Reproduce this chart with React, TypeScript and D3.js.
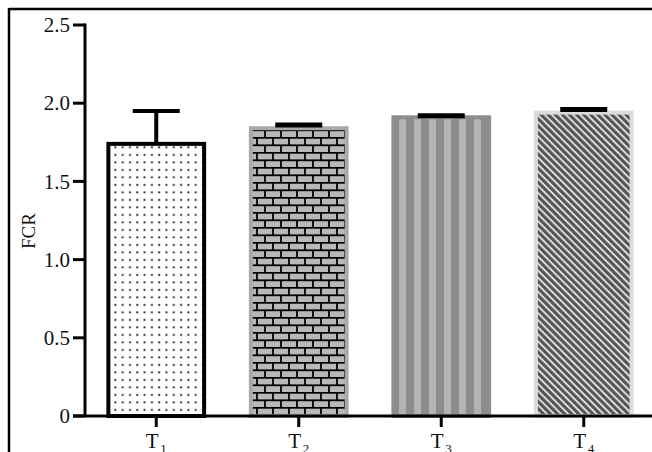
import React from "react";
import * as d3 from "d3";

const categories = ["1", "2", "3", "4"];
const means = [1.74, 1.84, 1.91, 1.94];
const errors = [0.21, 0.02, 0.01, 0.02];
const yTicks = [0, 0.5, 1.0, 1.5, 2.0, 2.5];
const yTickLabels = ["0", "0.5", "1.0", "1.5", "2.0", "2.5"];

const W = 652;
const H = 452;
const FONT = "Liberation Serif, Times New Roman, serif";

export default function App() {
  const x = d3
    .scaleBand<string>()
    .domain(categories)
    .range([85, 655])
    .paddingInner(0.3)
    .paddingOuter(0.15);
  const y = d3.scaleLinear().domain([0, 2.5]).range([416, 25]);
  const bw = x.bandwidth();
  const fills = ["url(#dots)", "url(#brick)", "url(#vstripe)", "url(#diag)"];
  const borders = ["#000", "#a9a9a9", "#8e8e8e", "#dcdcdc"];
  const capW = 47;

  return (
    <svg width={W} height={H} style={{ position: "absolute", left: 0, top: 0 }}>
      <defs>
        <pattern id="dots" patternUnits="userSpaceOnUse" width={7.3} height={7.5} x={2} y={1}>
          <rect width={7.3} height={7.5} fill="#fff" />
          <rect x={3} y={3} width={1.8} height={1.8} fill="#111" />
        </pattern>
        <pattern id="brick" patternUnits="userSpaceOnUse" width={16} height={15} x={0} y={2}>
          <rect width={16} height={15} fill="#b8b8b8" />
          <line x1={0} x2={16} y1={0.8} y2={0.8} stroke="#000" strokeWidth={1.8} />
          <line x1={0} x2={16} y1={8.3} y2={8.3} stroke="#000" strokeWidth={1.8} />
          <line x1={1} x2={1} y1={0} y2={8.3} stroke="#000" strokeWidth={1.8} />
          <line x1={9} x2={9} y1={8.3} y2={15} stroke="#000" strokeWidth={1.8} />
        </pattern>
        <pattern id="vstripe" patternUnits="userSpaceOnUse" width={15} height={10} x={394}>
          <rect width={15} height={10} fill="#8c8c8c" />
          <rect x={5} width={7} height={10} fill="#b4b4b4" />
        </pattern>
        <pattern id="diag" patternUnits="userSpaceOnUse" width={5} height={10} patternTransform="rotate(-45)">
          <rect width={5} height={10} fill="#e8e8e8" />
          <rect width={3.2} height={10} fill="#555" />
        </pattern>
      </defs>

      {/* outer frame */}
      <line x1={9} x2={W} y1={9} y2={9} stroke="#000" strokeWidth={2.5} />
      <line x1={9} x2={9} y1={8} y2={H} stroke="#000" strokeWidth={2.5} />

      {/* bars */}
      {categories.map((c, i) => {
        const x0 = x(c)!;
        const top = y(means[i]);
        const sw = 4;
        return (
          <rect
            key={c}
            x={x0 + sw / 2}
            y={top}
            width={bw - sw}
            height={y(0) - top}
            fill={fills[i]}
            stroke={borders[i]}
            strokeWidth={sw}
          />
        );
      })}

      {/* error bars */}
      {categories.map((c, i) => {
        const cx = x(c)! + bw / 2;
        const yt = y(means[i] + errors[i]);
        const yb = y(means[i]);
        return (
          <g key={"e" + c}>
            {i === 0 && <line x1={cx} x2={cx} y1={yt} y2={yb} stroke="#000" strokeWidth={4} />}
            <line x1={cx - capW / 2} x2={cx + capW / 2} y1={yt} y2={yt} stroke="#000" strokeWidth={i === 0 ? 4 : 5} />
          </g>
        );
      })}

      {/* y axis */}
      <line x1={85} x2={85} y1={y(2.5) - 1.5} y2={y(0)} stroke="#000" strokeWidth={3} />
      {yTicks.map((t, i) => (
        <g key={"yt" + i}>
          <line x1={73} x2={85} y1={y(t)} y2={y(t)} stroke="#000" strokeWidth={3} />
          <text
            x={70}
            y={y(t)}
            dy="0.34em"
            textAnchor="end"
            fontFamily={FONT}
            fontSize={21}
            fill="#111"
          >
            {yTickLabels[i]}
          </text>
        </g>
      ))}

      {/* x axis */}
      <line x1={73} x2={W} y1={y(0)} y2={y(0)} stroke="#000" strokeWidth={3} />
      {categories.map((c) => {
        const cx = x(c)! + bw / 2;
        return (
          <g key={"xt" + c}>
            <line x1={cx} x2={cx} y1={y(0)} y2={y(0) + 11} stroke="#000" strokeWidth={3} />
            <text x={cx - 4} y={448} textAnchor="middle" fontFamily={FONT} fontSize={21} fill="#111">
              T
            </text>
            <text x={cx + 4} y={453} textAnchor="start" fontFamily={FONT} fontSize={13} fill="#111">
              {c}
            </text>
          </g>
        );
      })}

      {/* y label */}
      <text
        transform="translate(35,231) rotate(-90)"
        textAnchor="middle"
        fontFamily={FONT}
        fontSize={19}
        fill="#111"
      >
        FCR
      </text>
    </svg>
  );
}
